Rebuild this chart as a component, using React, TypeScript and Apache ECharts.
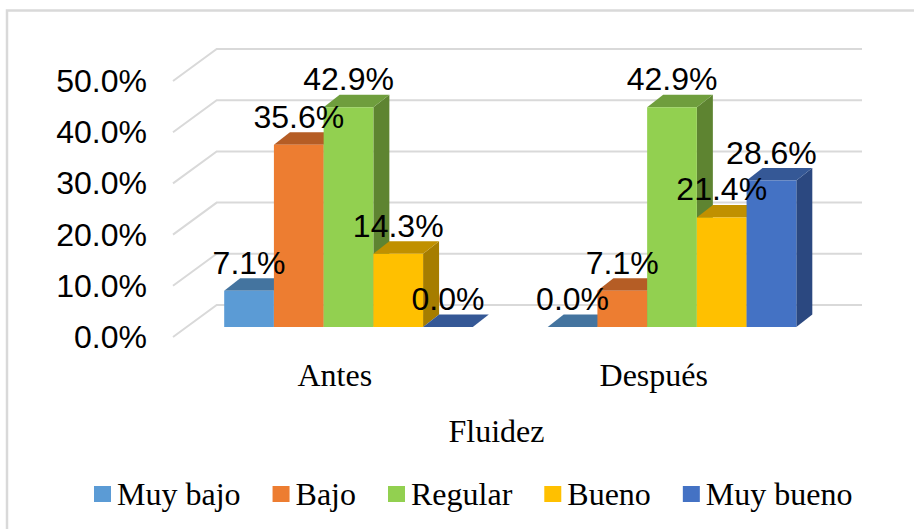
import React, { useEffect, useRef } from "react";
import * as echarts from "echarts";

const categories = ["Antes", "Después"];
const seriesNames = ["Muy bajo", "Bajo", "Regular", "Bueno", "Muy bueno"];
const muyBajo = [7.1, 0.0];
const bajo = [35.6, 7.1];
const regular = [42.9, 42.9];
const bueno = [14.3, 21.4];
const muyBueno = [0.0, 28.6];
const seriesValues = [muyBajo, bajo, regular, bueno, muyBueno];
const yTicks = [0, 10, 20, 30, 40, 50];
const frontColors = ["#5B9BD5", "#ED7D31", "#92D050", "#FFC000", "#4472C4"];
const topColors = ["#44749F", "#B55D25", "#6F9E3D", "#C09000", "#355896"];
const sideColors = ["#3B6691", "#9E4F1E", "#5E8431", "#A67D00", "#2B4880"];

const DX = 16;
const DY = -12.5;
const FLOOR_X = 13.75;
const FLOOR_Y = -10;
const FONT_SANS = "'Liberation Sans', Arial, sans-serif";
const FONT_SERIF = "'Liberation Serif', 'Times New Roman', serif";

export default function App() {
  const ref = useRef<HTMLDivElement>(null);
  useEffect(() => {
    const chart = echarts.init(ref.current!, undefined, { renderer: "svg" });
    const wallSeries = {
      type: "custom",
      name: "wall",
      silent: true,
      z: 1,
      data: yTicks.map((v) => [0, v]),
      encode: { x: 0, y: 1 },
      renderItem: (params: any, api: any) => {
        const y = api.coord([0, api.value(1)])[1];
        const left = params.coordSys.x;
        const right = left + params.coordSys.width;
        return {
          type: "polyline",
          shape: {
            points: [
              [left, y],
              [left + 43.7, y - 32],
              [right + 42, y - 32],
            ],
          },
          style: { stroke: "#D9D9D9", lineWidth: 2, fill: "none" },
        };
      },
    };
    const barSeries = seriesNames.map((name, si) => ({
      type: "custom",
      name,
      z: 2 + si,
      silent: true,
      itemStyle: { color: frontColors[si] },
      data: seriesValues[si].map((v, ci) => [ci, v]),
      encode: { x: 0, y: 1 },
      renderItem: (_: any, api: any) => {
        const ci = api.value(0);
        const val = api.value(1);
        const base = api.coord([ci, 0]);
        const top = api.coord([ci, val]);
        const w = api.size([1, 0])[0] * 0.1537;
        const x0 = base[0] + FLOOR_X + (si - 2.5) * w;
        const x1 = x0 + w;
        const y0 = base[1] + FLOOR_Y;
        const y1 = top[1] + FLOOR_Y;
        const children: any[] = [];
        children.push({
          type: "polygon",
          shape: {
            points: [
              [x1, y1],
              [x1 + DX, y1 + DY],
              [x1 + DX, y0 + DY],
              [x1, y0],
            ],
          },
          style: { fill: sideColors[si] },
        });
        children.push({
          type: "polygon",
          shape: {
            points: [
              [x0, y1],
              [x0 + DX, y1 + DY],
              [x1 + DX, y1 + DY],
              [x1, y1],
            ],
          },
          style: { fill: topColors[si] },
        });
        if (val > 0) {
          children.push({
            type: "rect",
            shape: { x: x0, y: y1, width: w, height: y0 - y1 },
            style: { fill: frontColors[si] },
          });
        }
        return { type: "group", children };
      },
    }));
    const labelSeries = {
      type: "custom",
      name: "labels",
      silent: true,
      z: 20,
      data: seriesNames.flatMap((_, si) =>
        seriesValues[si].map((v, ci) => [ci, v, si])
      ),
      encode: { x: 0, y: 1 },
      renderItem: (_: any, api: any) => {
        const ci = api.value(0);
        const val = api.value(1);
        const si = api.value(2);
        const p = api.coord([ci, val]);
        const w = api.size([1, 0])[0] * 0.1537;
        return {
          type: "text",
          x: p[0] + FLOOR_X + (si - 2) * w,
          y: p[1] + FLOOR_Y - 28,
          style: {
            text: `${val.toFixed(1)}%`,
            font: `32px ${FONT_SANS}`,
            fill: "#000000",
            align: "center",
            verticalAlign: "middle",
          },
        };
      },
    };
    chart.setOption({
      animation: false,
      backgroundColor: "#FFFFFF",
      graphic: [
        {
          type: "rect",
          shape: { x: 7, y: 10.5, width: 1000, height: 600 },
          style: { fill: "none", stroke: "#D9D9D9", lineWidth: 2.5 },
          silent: true,
        },
      ],
      grid: { left: 173, width: 647, top: 81, height: 256 },
      xAxis: {
        type: "category",
        data: categories,
        axisLine: { show: false },
        axisTick: { show: false },
        splitLine: { show: false },
        axisLabel: {
          interval: 0,
          margin: 22,
          color: "#000000",
          fontSize: 32,
          fontFamily: FONT_SERIF,
          formatter: (v: string, i: number) => (i === 1 ? `{b|${v}}` : v),
          rich: {
            b: {
              color: "#000000",
              fontSize: 32,
              fontFamily: FONT_SERIF,
              padding: [0, 9, 0, 0],
            },
          },
        },
        name: "Fluidez",
        nameLocation: "middle",
        nameGap: 78,
        nameTextStyle: {
          color: "#000000",
          fontSize: 32,
          fontFamily: FONT_SERIF,
        },
      },
      yAxis: {
        type: "value",
        min: 0,
        max: 50,
        interval: 10,
        axisLine: { show: false },
        axisTick: { show: false },
        splitLine: { show: false },
        axisLabel: {
          margin: 26,
          color: "#000000",
          fontSize: 32,
          fontFamily: FONT_SANS,
          formatter: (v: number) => `${v.toFixed(1)}%`,
        },
      },
      legend: {
        data: seriesNames.map((name, i) => ({
          name,
          icon: "rect",
          itemStyle: { color: frontColors[i] },
        })),
        left: 94,
        top: 478,
        padding: 0,
        itemWidth: 17,
        itemHeight: 16,
        itemGap: 32,
        selectedMode: false,
        textStyle: {
          color: "#000000",
          fontSize: 32,
          fontFamily: FONT_SERIF,
          padding: [0, 0, 0, 1],
        },
      },
      series: [wallSeries, ...barSeries, labelSeries],
    });
    return () => chart.dispose();
  }, []);
  return (
    <div
      ref={ref}
      style={{ position: "fixed", left: 0, top: 0, width: 914, height: 529 }}
    />
  );
}
